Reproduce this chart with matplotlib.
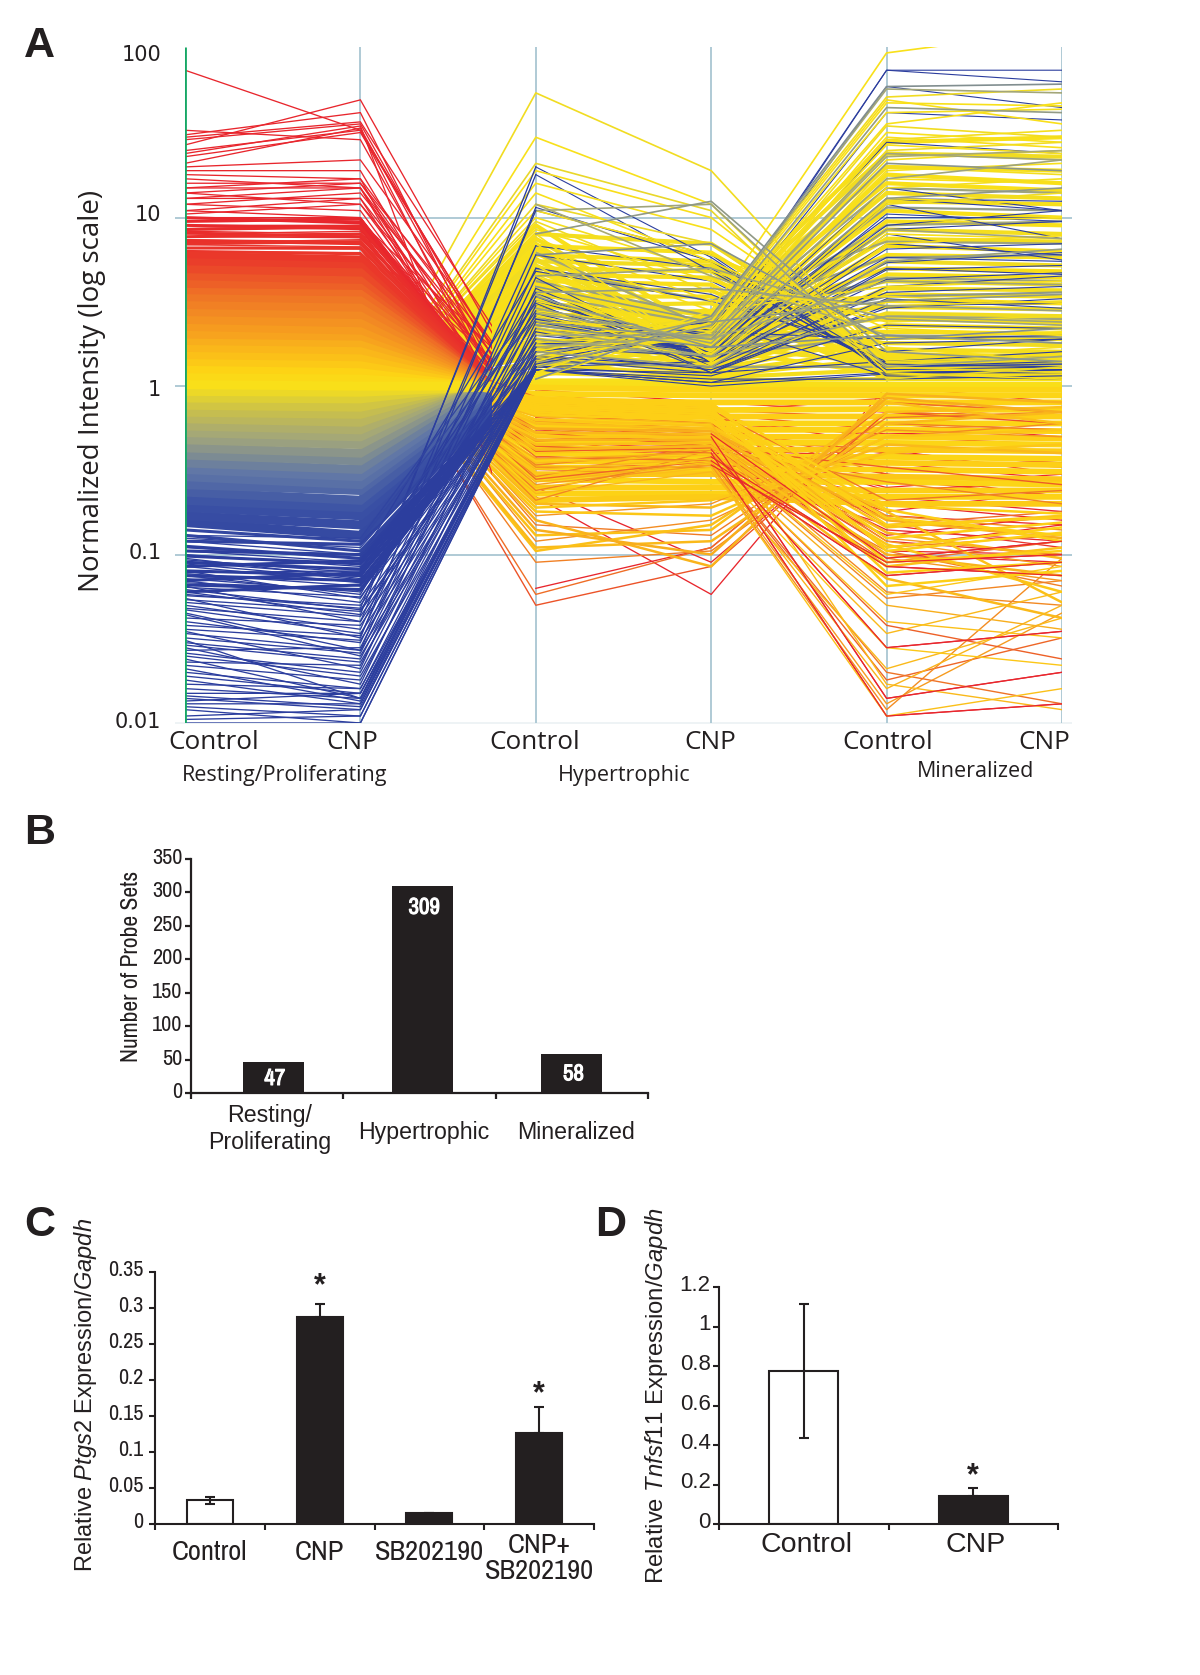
import matplotlib
matplotlib.use("Agg")
import matplotlib.pyplot as plt
import matplotlib.patheffects as pe
import numpy as np
from matplotlib.colors import LinearSegmentedColormap
from matplotlib.patches import Rectangle
from matplotlib.transforms import ScaledTranslation

W, H = 1200, 1675

# panel A, columns are: resting ctrl, resting CNP, hypertrophic ctrl, hypertrophic CNP, mineralized ctrl, mineralized CNP
conditions = ["Control", "CNP", "Control", "CNP", "Control", "CNP"]
log_ticks = [0.01, 0.1, 1, 10, 100]
log_labels = ["0.01", "0.1", "1", "10", "100"]

# the solid part of the first two columns (a bundle of probes per row)
resting_bundles = [
    [0.155, 0.13, 1.25], [0.17, 0.15, 1.3], [0.19, 0.17, 1.32], [0.21, 0.19, 1.35], [0.235, 0.21, 1.4],
    [0.26, 0.24, 1.45], [0.29, 0.26, 1.5], [0.32, 0.29, 1.5], [0.35, 0.32, 1.55], [0.39, 0.36, 1.6],
    [0.43, 0.40, 1.6], [0.48, 0.45, 1.6], [0.53, 0.50, 1.55], [0.58, 0.55, 1.5], [0.64, 0.61, 1.4],
    [0.70, 0.68, 1.3], [0.77, 0.75, 1.2], [0.85, 0.84, 1.1], [5.9, 5.6, 0.55], [5.4, 5.1, 0.55],
    [4.9, 4.7, 0.58], [4.4, 4.2, 0.6], [4.0, 3.8, 0.62], [3.6, 3.5, 0.65], [3.3, 3.2, 0.65],
    [3.0, 2.9, 0.68], [2.7, 2.6, 0.7], [2.45, 2.35, 0.72], [2.2, 2.1, 0.75], [2.0, 1.9, 0.78],
    [1.8, 1.75, 0.8], [1.65, 1.6, 0.82], [1.5, 1.45, 0.85], [1.36, 1.32, 0.88], [1.24, 1.2, 0.9],
    [1.12, 1.1, 0.95], [0.93, 0.92, 1.02], [1.02, 1.0, 1.0],
]
# thinner rows where the solid part breaks up into single lines
resting_edges = [
    [10, 9.3, 0.5], [9.5, 9.8, 0.45], [9.0, 8.6, 0.55], [8.5, 8.8, 0.5], [8.1, 7.7, 0.6], [7.7, 8.0, 0.52],
    [7.3, 7.0, 0.6], [7.0, 7.2, 0.56], [6.6, 6.6, 0.58], [6.3, 6.1, 0.6],
    [0.14, 0.12, 1.3], [0.13, 0.105, 1.35], [0.12, 0.115, 1.4], [0.112, 0.095, 1.3], [0.105, 0.10, 1.25], [0.098, 0.088, 1.3],
    [0.09, 0.082, 1.35], [0.085, 0.092, 1.25], [0.08, 0.075, 1.3], [0.075, 0.07, 1.3], [0.07, 0.078, 1.25], [0.066, 0.062, 1.3], [0.06, 0.066, 1.25],
]
blue_tail = [
    [0.011, 0.012, 1.25], [0.0125, 0.011, 1.25], [0.0135, 0.015, 1.25], [0.0145, 0.0125, 1.25], [0.017, 0.016, 1.25], [0.019, 0.015, 1.25],
    [0.021, 0.0135, 1.3], [0.025, 0.019, 1.3], [0.029, 0.023, 1.3], [0.031, 0.014, 1.3], [0.034, 0.027, 1.3], [0.036, 0.031, 1.3],
    [0.042, 0.038, 1.3], [0.044, 0.025, 1.3], [0.047, 0.034, 1.3], [0.052, 0.043, 1.3], [0.054, 0.046, 1.3], [0.057, 0.05, 1.3],
    [0.062, 0.047, 1.3], [0.064, 0.056, 1.3], [0.072, 0.06, 1.3], [0.077, 0.065, 1.3], [0.088, 0.071, 1.3], [0.093, 0.078, 1.3],
]

# the solid gold / yellow part of the last four columns
gold_bundles = [
    [1.05, 1.05, 1.02, 1.02, 1.02, 1.02], [1.2, 1.1, 0.98, 0.95, 0.95, 0.95], [1.2, 1.15, 0.9, 0.88, 0.88, 0.88], [1.25, 1.2, 0.82, 0.8, 0.8, 0.8],
    [1.2, 1.25, 0.75, 0.72, 0.73, 0.72], [1.3, 1.3, 0.68, 0.66, 0.66, 0.66], [1.2, 1.35, 0.62, 0.6, 0.6, 0.6],
    [1.25, 1.4, 0.57, 0.55, 0.55, 0.54], [1.3, 1.5, 0.52, 0.5, 0.5, 0.49], [1.2, 1.55, 0.47, 0.46, 0.46, 0.45],
    [1.35, 1.6, 0.43, 0.42, 0.42, 0.41], [1.2, 1.7, 0.4, 0.38, 0.38, 0.37], [1.3, 1.75, 0.36, 0.35, 0.35, 0.34],
    [1.25, 1.8, 0.33, 0.32, 0.32, 0.31], [1.4, 1.9, 0.3, 0.3, 0.29, 0.28], [1.2, 2.0, 0.28, 0.27, 0.27, 0.26],
    [1.3, 2.1, 0.25, 0.25, 0.24, 0.24], [1.25, 2.2, 0.23, 0.23, 0.22, 0.22], [1.35, 2.3, 0.21, 0.22, 0.2, 0.2],
]
yellow_bundles = [
    [1.0, 1.0, 1.08, 1.08, 1.1, 1.1], [0.98, 0.98, 1.2, 1.12, 1.25, 1.25], [1.02, 0.96, 1.35, 1.15, 1.45, 1.4],
    [0.97, 0.94, 1.5, 1.2, 1.65, 1.6], [1.0, 0.92, 1.7, 1.25, 1.95, 1.9], [1.0, 0.9, 1.9, 1.3, 2.3, 2.2],
    [0.96, 0.88, 2.2, 1.35, 2.7, 2.6], [1.03, 0.86, 2.5, 1.4, 3.2, 3.1], [0.98, 0.84, 2.9, 1.45, 3.8, 3.7],
    [1.0, 0.82, 3.3, 1.5, 4.6, 4.4], [0.96, 0.8, 3.8, 1.55, 5.5, 5.2], [1.02, 0.78, 4.4, 1.6, 6.8, 6.3],
    [0.98, 0.76, 5.2, 1.7, 8.5, 8.0], [1.0, 0.74, 6.2, 1.8, 11, 10], [0.97, 0.72, 7.5, 1.9, 14, 13],
    [1.0, 0.7, 9.0, 2.0, 18, 16], [0.98, 0.85, 2.6, 2.8, 1.2, 1.2], [1.0, 0.82, 3.4, 3.4, 1.3, 1.35],
    [1.02, 0.8, 4.2, 4.0, 1.15, 1.2], [0.97, 0.78, 5.0, 4.8, 1.25, 1.3], [1.0, 0.75, 6.0, 5.5, 1.4, 1.5],
    [1.0, 0.95, 1.15, 1.65, 1.18, 1.2], [0.98, 0.93, 1.3, 1.75, 1.35, 1.32], [1.03, 0.9, 1.6, 1.85, 1.55, 1.5],
    [0.95, 0.88, 1.8, 1.95, 1.8, 1.75], [1.0, 0.86, 2.1, 2.05, 2.1, 2.05], [1.02, 0.84, 2.4, 2.15, 2.5, 2.4],
    [0.97, 0.82, 2.7, 2.3, 2.95, 2.85], [1.0, 0.8, 3.1, 2.45, 3.5, 3.4], [0.96, 0.78, 3.6, 2.6, 4.2, 4.0],
    [1.04, 0.76, 4.1, 2.2, 5.0, 4.8], [1.0, 0.74, 4.8, 2.0, 6.0, 5.8], [0.98, 0.72, 5.6, 1.8, 7.5, 7.2],
    [1.0, 0.7, 6.6, 1.65, 9.5, 9.0], [0.97, 0.68, 7.0, 1.55, 12.5, 12], [1.02, 0.7, 3.0, 2.4, 16, 14.5],
    [1.0, 0.75, 2.3, 2.5, 20, 19], [0.96, 0.8, 1.7, 2.6, 24, 23], [1.0, 0.85, 1.4, 2.7, 28, 30],
    [0.98, 0.84, 3.0, 3.1, 1.1, 1.15], [1.0, 0.8, 3.8, 3.7, 1.2, 1.25], [1.03, 0.8, 4.6, 4.4, 1.3, 1.2],
    [0.96, 0.76, 5.5, 5.2, 1.35, 1.4], [1.0, 0.74, 6.8, 6.2, 1.45, 1.55], [0.98, 0.72, 8.0, 7.0, 1.5, 1.45],
]
grey_bundles = [
    [0.5, 0.5, 1.4, 1.3, 1.3, 1.35], [0.48, 0.48, 1.8, 1.5, 2.0, 1.95], [0.52, 0.46, 2.3, 1.7, 2.6, 2.5],
    [0.45, 0.45, 2.8, 2.0, 3.4, 3.6], [0.5, 0.44, 3.5, 2.3, 4.4, 4.2], [0.47, 0.42, 4.2, 2.6, 5.8, 6.0],
    [0.5, 0.4, 5.0, 3.2, 7.2, 7.0], [0.52, 0.42, 6.2, 2.2, 9.0, 9.5], [0.46, 0.4, 3.2, 1.9, 11.5, 11], [0.5, 0.45, 2.5, 2.1, 15, 14],
]

red_probes = [
    [75, 33, 0.62, 0.48, 0.42, 0.30], [33, 29, 0.40, 0.36, 0.20, 0.16], [27, 50, 0.72, 0.60, 0.52, 0.55],
    [31, 42, 0.36, 0.40, 0.011, 0.013], [30, 37, 0.90, 0.72, 0.65, 0.75], [29, 36, 0.52, 0.46, 0.30, 0.26],
    [25, 33, 0.30, 0.34, 0.09, 0.10], [24, 35, 0.063, 0.11, 0.8, 0.7], [23, 32, 0.65, 0.55, 0.40, 0.35],
    [21, 34, 0.45, 0.40, 0.13, 0.17], [20, 22, 0.80, 0.70, 0.85, 0.70], [19, 19, 0.34, 0.42, 0.028, 0.035],
    [18, 17, 0.22, 0.058, 1.00, 0.80], [17, 15, 0.25, 0.09, 0.70, 0.65], [16, 16, 0.55, 0.48, 0.11, 0.15],
    [15, 17, 0.70, 0.60, 0.30, 0.22], [15, 15, 0.38, 0.42, 0.10, 0.09], [14, 16, 0.85, 0.68, 0.55, 0.60],
    [14, 12, 0.48, 0.38, 0.18, 0.24], [13, 15, 0.60, 0.52, 0.095, 0.12], [13, 13, 0.32, 0.30, 0.40, 0.35],
    [12, 14, 0.75, 0.65, 0.16, 0.13], [12, 11, 0.42, 0.45, 0.25, 0.30], [11, 13, 0.58, 0.50, 0.014, 0.020],
    [11, 10, 0.35, 0.38, 0.085, 0.075], [10.5, 12, 0.68, 0.58, 0.35, 0.28], [10, 10, 0.50, 0.44, 0.14, 0.12],
    [10, 9.5, 0.95, 0.80, 0.70, 0.65], [9.5, 10, 0.44, 0.36, 0.22, 0.18], [9, 9, 0.62, 0.56, 0.12, 0.10],
    [9, 8.6, 0.30, 0.36, 0.075, 0.09], [8.6, 9, 0.78, 0.66, 0.45, 0.40], [8.3, 8, 0.54, 0.46, 0.28, 0.22],
    [8, 8.3, 0.40, 0.34, 0.17, 0.15], [7.7, 7.6, 0.66, 0.62, 0.60, 0.50], [7.4, 7.2, 0.85, 0.74, 0.105, 0.10],
    [7.1, 7.4, 0.47, 0.42, 0.38, 0.33], [6.9, 6.7, 0.60, 0.50, 0.24, 0.27], [6.6, 6.5, 0.36, 0.32, 0.15, 0.11],
    [6.3, 6.2, 0.72, 0.64, 0.50, 0.45],
]
orange_probes = [
    [4.5, 3.0, 0.05, 0.085, 0.7, 0.6], [3.6, 2.6, 0.058, 0.11, 0.8, 0.7], [3.0, 2.4, 0.09, 0.105, 0.6, 0.55],
    [2.6, 2.3, 0.12, 0.16, 0.5, 0.6], [3.2, 2.4, 0.15, 0.13, 0.65, 0.7], [2.4, 2.2, 0.17, 0.20, 0.55, 0.5],
    [2.8, 2.3, 0.21, 0.42, 0.055, 0.070], [3.8, 2.4, 0.28, 0.36, 0.018, 0.032], [2.2, 2.0, 0.26, 0.34, 0.013, 0.045],
    [2.6, 2.2, 0.33, 0.33, 0.012, 0.095], [3.4, 2.5, 0.38, 0.36, 0.020, 0.013], [4.0, 2.6, 0.44, 0.40, 0.038, 0.024],
    [2.3, 2.0, 0.50, 0.46, 0.095, 0.070], [3.0, 2.2, 0.56, 0.50, 0.110, 0.130], [2.1, 1.9, 0.62, 0.54, 0.125, 0.100],
    [3.6, 2.4, 0.70, 0.60, 0.150, 0.180], [2.5, 2.0, 0.78, 0.66, 0.170, 0.140], [3.3, 2.1, 0.86, 0.72, 0.210, 0.240],
    [2.9, 2.2, 0.34, 0.42, 0.270, 0.200], [4.2, 2.5, 0.41, 0.43, 0.330, 0.260], [2.2, 1.9, 0.47, 0.52, 0.120, 0.085],
    [3.7, 2.3, 0.53, 0.44, 0.090, 0.120], [2.7, 2.2, 0.29, 0.45, 0.060, 0.050], [3.1, 2.2, 0.24, 0.38, 0.105, 0.065],
]
gold_probes = [
    [1.6, 2.0, 0.11, 0.12, 0.6, 0.7], [1.5, 2.0, 0.13, 0.14, 0.8, 0.6], [1.7, 2.1, 0.16, 0.085, 0.9, 0.8],
    [1.4, 1.9, 0.18, 0.17, 0.5, 0.55], [1.6, 1.9, 0.20, 0.19, 0.45, 0.4], [1.5, 2.0, 0.105, 0.15, 0.7, 0.75],
    [1.8, 2.1, 0.14, 0.10, 0.85, 0.7], [1.4, 1.8, 0.19, 0.21, 0.4, 0.45],
    [1.6, 1.8, 0.23, 0.31, 0.021, 0.042], [1.5, 1.7, 0.25, 0.33, 0.011, 0.016], [1.7, 1.8, 0.27, 0.35, 0.016, 0.050],
    [1.4, 1.7, 0.30, 0.36, 0.028, 0.022], [1.6, 1.7, 0.32, 0.37, 0.034, 0.060], [1.5, 1.6, 0.35, 0.39, 0.040, 0.032],
    [1.8, 1.7, 0.37, 0.40, 0.050, 0.036], [1.4, 1.6, 0.40, 0.42, 0.058, 0.085], [1.6, 1.6, 0.42, 0.44, 0.072, 0.042],
    [1.5, 1.6, 0.45, 0.46, 0.085, 0.110], [1.7, 1.6, 0.48, 0.48, 0.100, 0.075], [1.4, 1.5, 0.50, 0.50, 0.115, 0.060],
    [1.6, 1.5, 0.53, 0.52, 0.135, 0.095], [1.8, 1.5, 0.56, 0.54, 0.160, 0.125], [1.5, 1.5, 0.60, 0.56, 0.180, 0.052],
    [1.4, 1.5, 0.63, 0.58, 0.145, 0.170], [1.6, 1.4, 0.66, 0.60, 0.017, 0.012], [1.3, 1.4, 0.68, 0.62, 0.110, 0.145],
    [1.3, 1.4, 0.70, 0.64, 0.125, 0.155], [1.3, 1.4, 0.72, 0.66, 0.165, 0.130], [1.3, 1.3, 0.74, 0.68, 0.185, 0.120],
    [1.3, 1.3, 0.76, 0.70, 0.090, 0.105], [1.3, 1.3, 0.78, 0.72, 0.078, 0.090], [1.3, 1.3, 0.80, 0.74, 0.065, 0.080],
    [1.3, 1.3, 0.82, 0.76, 0.150, 0.165], [1.3, 1.3, 0.84, 0.78, 0.195, 0.175], [1.3, 1.3, 0.86, 0.80, 0.105, 0.135],
]
yellow_probes = [
    [0.95, 0.7, 55, 19, 1.4, 1.5], [1.0, 0.65, 30, 12, 1.2, 1.1], [0.9, 0.7, 21, 11, 1.1, 1.3], [1.05, 0.7, 19, 10, 1.5, 1.7],
    [1.0, 0.72, 16, 8.5, 1.7, 1.4], [0.92, 0.75, 12, 7, 1.3, 1.2], [1.0, 0.75, 14, 5.5, 1.9, 2.1], [1.03, 0.78, 11, 6, 2.2, 2.0],
    [0.97, 0.8, 10, 4.8, 2.4, 2.6], [1.0, 0.8, 8.5, 4.2, 2.6, 2.3], [0.95, 0.82, 9.5, 3.6, 3.0, 3.2], [1.05, 0.85, 7.5, 3.2, 3.4, 3.1],
    [1.0, 0.85, 6.5, 2.8, 3.9, 4.2], [1.0, 0.95, 1.2, 2.8, 95, 130], [0.95, 0.9, 1.4, 2.6, 52, 58], [1.0, 0.95, 1.1, 2.4, 48, 46],
    [1.02, 0.9, 1.6, 2.5, 50, 36], [0.98, 0.88, 1.8, 2.3, 42, 44], [1.0, 0.85, 2.0, 2.3, 36, 48], [0.96, 0.95, 1.3, 2.1, 35, 30],
    [1.0, 0.9, 1.5, 2.0, 32, 28], [1.03, 0.85, 2.4, 2.2, 30, 26], [0.98, 0.9, 1.7, 1.9, 29, 33], [1.0, 0.82, 2.8, 2.1, 27, 24],
    [0.95, 0.88, 1.9, 1.8, 25, 28], [1.05, 0.85, 2.2, 1.8, 24, 22], [1.0, 0.8, 3.2, 1.9, 22, 25], [0.97, 0.82, 2.6, 1.7, 20, 18],
    [1.0, 0.78, 3.6, 1.8, 19, 21], [1.02, 0.78, 4.0, 1.6, 17, 16], [0.98, 0.75, 4.6, 1.6, 15, 17], [1.0, 0.72, 5.2, 1.5, 13, 12],
    [0.95, 0.7, 5.8, 1.5, 12, 14], [1.0, 0.68, 7.0, 1.4, 9.5, 10], [1.0, 0.66, 8.0, 1.4, 8.0, 7.5], [1.04, 0.82, 3.0, 1.3, 7.0, 7.8],
]
grey_probes = [
    [0.5, 0.48, 11, 12, 1.3, 1.5], [0.45, 0.5, 8, 12.5, 1.6, 1.4], [0.55, 0.5, 12, 4.5, 2.0, 1.8], [0.42, 0.45, 6, 7, 1.9, 2.2],
    [0.5, 0.55, 4.5, 5, 2.5, 2.3], [0.48, 0.42, 3.6, 3.8, 3.0, 2.8], [0.4, 0.4, 1.1, 2.6, 60, 62], [0.52, 0.5, 1.5, 2.5, 58, 55],
    [0.46, 0.48, 1.3, 2.3, 45, 42], [0.5, 0.45, 2.0, 2.0, 24, 22], [0.55, 0.55, 1.7, 2.0, 23, 25], [0.43, 0.45, 2.4, 1.9, 21, 19],
    [0.5, 0.5, 2.9, 1.8, 17, 22], [0.44, 0.4, 3.4, 1.7, 13, 15], [0.52, 0.55, 2.2, 1.5, 8.5, 7.5], [0.47, 0.45, 1.6, 1.3, 5.5, 6.5],
    [0.5, 0.5, 2.7, 1.9, 4.2, 4.0], [0.45, 0.42, 3.9, 2.4, 3.2, 3.5], [0.5, 0.48, 1.9, 1.5, 2.6, 2.4], [0.42, 0.45, 2.3, 1.7, 2.0, 1.8],
]
blue_probes = [
    [0.010, 0.010, 1.25, 1.05, 1.2, 1.25], [0.0105, 0.011, 1.25, 1.1, 1.1, 1.15], [0.012, 0.010, 1.25, 1.05, 1.8, 1.9], [0.014, 0.012, 1.3, 1.15, 2.3, 2.2],
    [0.013, 0.013, 1.25, 1.2, 3.0, 3.1], [0.016, 0.014, 1.35, 2.1, 75, 64], [0.015, 0.015, 1.4, 2.2, 75, 75], [0.018, 0.013, 1.5, 2.3, 60, 45],
    [0.020, 0.016, 1.6, 2.1, 42, 38], [0.022, 0.018, 1.7, 2.0, 28, 24], [0.024, 0.014, 1.8, 1.7, 13, 11], [0.026, 0.020, 2.0, 1.6, 12, 7.5],
    [0.023, 0.022, 2.2, 1.7, 10, 10], [0.028, 0.017, 2.4, 1.6, 8.5, 9.5], [0.030, 0.024, 2.7, 1.5, 7, 6],
    [0.032, 0.026, 3.0, 1.5, 5.8, 5.5], [0.027, 0.028, 3.4, 1.4, 5.0, 4.6], [0.035, 0.021, 3.8, 1.4, 4.3, 4.7], [0.040, 0.030, 4.4, 1.3, 3.6, 3.9],
    [0.038, 0.033, 5.0, 3.5, 1.4, 1.6], [0.045, 0.027, 6.0, 4.2, 1.3, 1.4], [0.050, 0.036, 6.8, 5.0, 1.25, 1.3], [0.048, 0.040, 11, 6.0, 1.2, 1.25],
    [0.055, 0.032, 11.5, 5.5, 1.35, 1.3], [0.060, 0.044, 20, 5.8, 1.2, 1.2], [0.058, 0.048, 18, 4.8, 1.3, 1.35], [0.065, 0.040, 1.8, 2.4, 1.15, 1.1],
    [0.070, 0.052, 2.5, 1.6, 9, 11], [0.075, 0.058, 3.2, 1.6, 13, 12.5], [0.068, 0.062, 1.9, 1.7, 15, 11], [0.080, 0.055, 2.1, 1.4, 6.5, 7],
    [0.085, 0.068, 1.5, 1.3, 4.9, 5.2], [0.090, 0.075, 1.6, 1.25, 2.9, 3.3], [0.078, 0.080, 2.8, 2.1, 1.9, 2.0], [0.095, 0.072, 3.6, 1.2, 1.4, 1.5],
    [0.10, 0.085, 1.25, 1.0, 1.18, 1.25], [0.105, 0.090, 1.3, 1.4, 8, 5.6], [0.11, 0.095, 4.8, 3.2, 1.6, 1.9], [0.12, 0.10, 1.45, 1.2, 3.9, 4.5],
    [0.125, 0.11, 1.7, 1.5, 10.5, 9.5], [0.14, 0.12, 2.6, 1.5, 5.4, 6.2], [0.13, 0.125, 3.1, 1.2, 3.3, 2.9],
]

# panels B, C, D
stage_names = ["Resting/\nProliferating", "Hypertrophic", "Mineralized"]
probe_set_counts = [47, 309, 58]
probe_ticks = [0, 50, 100, 150, 200, 250, 300, 350]

ptgs2_names = ["Control", "CNP", "SB202190", "CNP+\nSB202190"]
ptgs2_values = [0.033, 0.287, 0.015, 0.126]
ptgs2_err_up = [0.005, 0.018, 0, 0.036]
ptgs2_err_down = [0.005, 0, 0, 0]
ptgs2_ticks = [0, 0.05, 0.1, 0.15, 0.2, 0.25, 0.3, 0.35]
ptgs2_ticklabels = ["0", "0.05", "0.1", "0.15", "0.2", "0.25", "0.3", "0.35"]
ptgs2_colors = ["white", "#231f20", "#231f20", "#231f20"]

tnfsf11_names = ["Control", "CNP"]
tnfsf11_values = [0.775, 0.143]
tnfsf11_err_up = [0.338, 0.037]
tnfsf11_err_down = [0.34, 0]
tnfsf11_ticks = [0, 0.2, 0.4, 0.6, 0.8, 1, 1.2]
tnfsf11_ticklabels = ["0", "0.2", "0.4", "0.6", "0.8", "1", "1.2"]
tnfsf11_colors = ["white", "#231f20"]

BLACK = "#231f20"
GRIDCOL = "#a9c6d2"
NARROW = ["Archivo Narrow", "Liberation Sans"]
ARIAL = ["Liberation Sans"]
MYRIAD = ["Open Sans"]

plt.rcParams["mathtext.fontset"] = "custom"
plt.rcParams["mathtext.it"] = "Liberation Sans:italic"
plt.rcParams["mathtext.rm"] = "Liberation Sans"

fig = plt.figure(figsize=(W / 100, H / 100), dpi=100, facecolor="w")


def axes_px(left, top, right, bottom):
    return fig.add_axes([left / W, 1 - bottom / H, (right - left) / W, (bottom - top) / H])


def nudge(label, dx, dy):
    # shift a tick label by screen pixels (y up)
    label.set_transform(label.get_transform() + ScaledTranslation(dx / 100, dy / 100, fig.dpi_scale_trans))


def text_px(x, y, s, **kw):
    kw.setdefault("ha", "center")
    kw.setdefault("va", "center")
    kw.setdefault("color", BLACK)
    return fig.text(x / W, 1 - y / H, s, **kw)


def style_bar_axes(ax, lw=1.5):
    ax.patch.set_alpha(0)
    for s in ["top", "right"]:
        ax.spines[s].set_visible(False)
    for s in ["left", "bottom"]:
        ax.spines[s].set_linewidth(lw)
        ax.spines[s].set_color(BLACK)
    ax.tick_params(axis="both", length=4, width=lw, color=BLACK, pad=2)


# ---------------
# A
# ---------------
axA = axes_px(185, 47, 1062, 723)
axA.set_yscale("log")
axA.set_xlim(0, 5)
axA.set_ylim(0.01, 103)
for s in axA.spines.values():
    s.set_visible(False)

cmap = LinearSegmentedColormap.from_list("probe", [
    (0.0, "#2c3e9e"), (0.15, "#3a51a5"), (0.25, "#6077a6"), (0.35, "#a0a47c"), (0.43, "#c8bf4c"),
    (0.5, "#f8e11a"), (0.55, "#fdd215"), (0.65, "#f7a31e"), (0.75, "#f07d25"), (0.875, "#ea3a2a"), (1.0, "#e8262d"),
])


def probe_color(v):
    return cmap((np.clip(np.log10(v), -1, 1) + 1) / 2)


columns = np.arange(6)
axA.hlines([0.1, 1, 10], -0.057, 5.057, color=GRIDCOL, lw=1.3, clip_on=False, zorder=1)
axA.hlines([0.01], -0.057, 5.057, color="#edf2f4", lw=1.3, clip_on=False, zorder=1)
axA.vlines(columns[1:], 0.01, 103, color=GRIDCOL, lw=1.3, zorder=1)
axA.vlines(columns[:1], 0.01, 103, color="#16a765", lw=2, zorder=20)


def draw_wedge(rows, lw):
    # the fan out of the resting columns stays on top only up to where the fan closes
    for row in rows:
        line, = axA.plot(columns[:3], row[:3], color=probe_color(row[0]), lw=lw, zorder=6.5,
                         solid_capstyle="butt", solid_joinstyle="miter")
        line.set_clip_path(Rectangle((0, 0), 1.75, 1, transform=axA.get_xaxis_transform()))


draw_wedge(red_probes, 0.95)
draw_wedge(resting_edges, 2.2)
draw_wedge(resting_bundles, 6.5)
for row in blue_probes + blue_tail:
    axA.plot(columns[:3], row[:3], color=probe_color(row[0]), lw=0.95, zorder=6.6)
for row in red_probes:
    axA.plot(columns[2:], row[2:], color=probe_color(row[0]), lw=0.95, zorder=3)
    if row[4] < 0.1:
        axA.plot(columns[3:], row[3:], color=probe_color(row[0]), lw=0.85, zorder=7)

for row in yellow_bundles:
    axA.plot(columns[1:], row[1:], color=probe_color(row[0]), lw=3.0, zorder=5, solid_capstyle="butt")
for row in gold_bundles:
    axA.plot(columns[1:], row[1:], color=probe_color(row[0]), lw=4.2, zorder=5, solid_capstyle="butt")
for row in grey_bundles:
    axA.plot(columns[2:], row[2:], color=probe_color(row[0]), lw=1.6, zorder=5.2, solid_capstyle="butt")
for row in blue_probes:
    axA.plot(columns[2:], row[2:], color=probe_color(row[0]), lw=0.8, zorder=5.5)
for row in orange_probes:
    axA.plot(columns[1:], row[1:], color=probe_color(row[0]), lw=1.0, zorder=6)
for row in gold_probes:
    axA.plot(columns[1:], row[1:], color=probe_color(row[0]), lw=1.8 if row[4] > 0.06 else 1.0, zorder=6)
for row in yellow_probes:
    axA.plot(columns[1:], row[1:], color=probe_color(row[0]), lw=1.2, zorder=6)
for row in grey_probes:
    axA.plot(columns[2:], row[2:], color=probe_color(row[0]), lw=1.2, zorder=6)

axA.set_yticks(log_ticks, log_labels, fontsize=15, color=BLACK, family="DejaVu Sans")
axA.minorticks_off()
axA.tick_params(axis="y", length=0, pad=17)
for lbl, dy in zip(axA.get_yticklabels(), [3, 4, -2, 5, -4]):
    nudge(lbl, 0, dy)
axA.set_xticks(columns, conditions, fontsize=18.8, color=BLACK, family=MYRIAD)
axA.tick_params(axis="x", length=0, pad=5)
for lbl, dx in zip(axA.get_xticklabels(), [29, -8, -1, -1, 1, -18]):
    nudge(lbl, dx, 0)

text_px(92, 391, "Normalized Intensity (log scale)", rotation=90, fontsize=20, family=MYRIAD)
text_px(285, 775, "Resting/Proliferating", fontsize=15.5, family=MYRIAD)
text_px(624, 775, "Hypertrophic", fontsize=15.5, family=MYRIAD)
text_px(976, 771, "Mineralized", fontsize=15.5, family=MYRIAD)

# ---------------
# B
# ---------------
axB = axes_px(191, 859, 648, 1093)
style_bar_axes(axB, 1.6)
axB.set_xlim(-0.5, 2.5)
axB.set_ylim(0, 350)
barsB = axB.bar(np.arange(3) + np.array([0.04, 0.02, 0.0]), probe_set_counts, width=0.4, color=BLACK)
for b, n, dy in zip(barsB, probe_set_counts, [-26, -32, -30]):
    axB.text(b.get_x() + b.get_width() / 2 + 0.01, n + dy, str(n), color="w", ha="center", va="center",
             fontsize=16.5, family=NARROW, path_effects=[pe.withStroke(linewidth=0.8, foreground="w")])
axB.set_yticks(probe_ticks, [str(t) for t in probe_ticks], fontsize=16, color=BLACK, family=NARROW)
for lbl in axB.get_yticklabels():
    nudge(lbl, 0, 3)
axB.set_xticks([-0.5, 0.5, 1.5, 2.5], ["", "", "", ""])
for i, name, dx, dy in zip(range(3), stage_names, [2, 3, 3], [-26, -28.5, -28.5]):
    axB.annotate(name, (i, 0), xytext=(dx, dy), textcoords="offset points", ha="center", va="center",
                 fontsize=16.7, color=BLACK, family=ARIAL, linespacing=1.25)
text_px(131, 966, "Number of Probe Sets", rotation=90, fontsize=17, family=NARROW)

# ---------------
# C
# ---------------
axC = axes_px(155, 1272, 594, 1524)
style_bar_axes(axC, 1.5)
axC.set_xlim(-0.5, 3.5)
axC.set_ylim(0, 0.35)
axC.bar(np.arange(4), ptgs2_values, width=0.42, color=ptgs2_colors, edgecolor=BLACK, lw=1.5,
        yerr=[ptgs2_err_down, ptgs2_err_up], error_kw=dict(ecolor=BLACK, elinewidth=1.5, capsize=3.5, capthick=1.5))
axC.set_yticks(ptgs2_ticks, ptgs2_ticklabels, fontsize=16, color=BLACK, family=NARROW)
axC.tick_params(axis="y", pad=4.5)
for lbl in axC.get_yticklabels():
    nudge(lbl, 0, 4)
axC.set_xticks([-0.5, 0.5, 1.5, 2.5, 3.5], ["", "", "", "", ""])
for i, name in enumerate(ptgs2_names):
    axC.annotate(name, (i, 0), xytext=(0, -20.5 if i < 3 else -25), textcoords="offset points", ha="center", va="center",
                 fontsize=20.5, color=BLACK, family=NARROW, linespacing=1.05)
axC.text(1, 0.31, "*", ha="center", va="bottom", fontsize=22, fontweight="bold", color=BLACK, family=ARIAL)
axC.text(3, 0.159, "*", ha="center", va="bottom", fontsize=22, fontweight="bold", color=BLACK, family=ARIAL)
text_px(86, 1395, r"Relative $\mathit{Ptgs2}$ Expression/$\mathit{Gapdh}$", rotation=90, fontsize=17, family=ARIAL)

# ---------------
# D
# ---------------
axD = axes_px(719, 1287, 1058, 1524)
style_bar_axes(axD, 1.5)
axD.set_xlim(-0.5, 1.5)
axD.set_ylim(0, 1.2)
axD.bar(np.arange(2), tnfsf11_values, width=0.405, color=tnfsf11_colors, edgecolor=BLACK, lw=1.5,
        yerr=[tnfsf11_err_down, tnfsf11_err_up], error_kw=dict(ecolor=BLACK, elinewidth=1.5, capsize=3.5, capthick=1.5))
axD.set_yticks(tnfsf11_ticks, tnfsf11_ticklabels, fontsize=16, color=BLACK, family=ARIAL)
for lbl in axD.get_yticklabels():
    nudge(lbl, 0, 4)
axD.set_xticks([-0.5, 0.5, 1.5], ["", "", ""])
for i, name in enumerate(tnfsf11_names):
    axD.annotate(name, (i, 0), xytext=(2, -15), textcoords="offset points", ha="center", va="center",
                 fontsize=20.5, color=BLACK, family=ARIAL)
axD.text(0.995, 0.165, "*", ha="center", va="bottom", fontsize=22, fontweight="bold", color=BLACK, family=ARIAL)
text_px(657, 1396, r"Relative $\mathit{Tnfsf11}$ Expression/$\mathit{Gapdh}$", rotation=90, fontsize=17.2, family=ARIAL)

# panel letters
for letter, x, y in [("A", 39, 46), ("B", 40, 833), ("C", 40, 1225), ("D", 611, 1225)]:
    text_px(x, y, letter, fontsize=31, fontweight="bold", family=ARIAL)

fig.savefig("out.png", dpi=100)
